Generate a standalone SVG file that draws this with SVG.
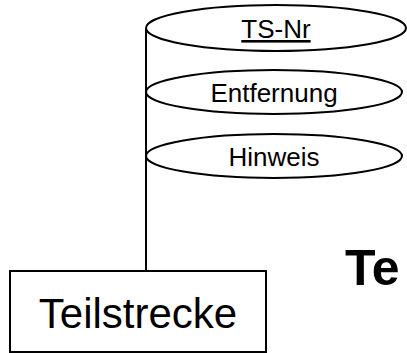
<svg xmlns="http://www.w3.org/2000/svg" width="407" height="353" viewBox="0 0 407 353">
<style>
.shape{fill:#fff;stroke:#000;stroke-width:2}
.line{fill:none;stroke:#000;stroke-width:2}
.attr{font-family:"Liberation Sans",Arial,sans-serif;font-size:26px;fill:#000;text-anchor:middle}
.ent{font-family:"Liberation Sans",Arial,sans-serif;font-size:42px;fill:#000;text-anchor:middle}
.title{font-family:"Liberation Sans",Arial,sans-serif;font-size:50px;font-weight:bold;fill:#000}
</style>
<rect width="407" height="353" fill="#fff"/>
<g id="connectors">
<line class="line" x1="146" y1="29" x2="146" y2="271"/>
</g>
<g id="attr-tsnr">
<ellipse class="shape" cx="276" cy="28" rx="130" ry="23"/>
<text class="attr" x="276" y="38" text-decoration="underline">TS-Nr</text>
</g>
<g id="attr-entfernung">
<ellipse class="shape" cx="274" cy="92" rx="128" ry="22"/>
<text class="attr" x="274" y="102">Entfernung</text>
</g>
<g id="attr-hinweis">
<ellipse class="shape" cx="274" cy="156" rx="128" ry="22"/>
<text class="attr" x="274" y="166">Hinweis</text>
</g>
<g id="entity-teilstrecke">
<rect class="shape" x="10" y="271" width="256" height="81"/>
<text class="ent" x="138" y="328">Teilstrecke</text>
</g>
<text class="title" x="345" y="285">Te</text>
</svg>
